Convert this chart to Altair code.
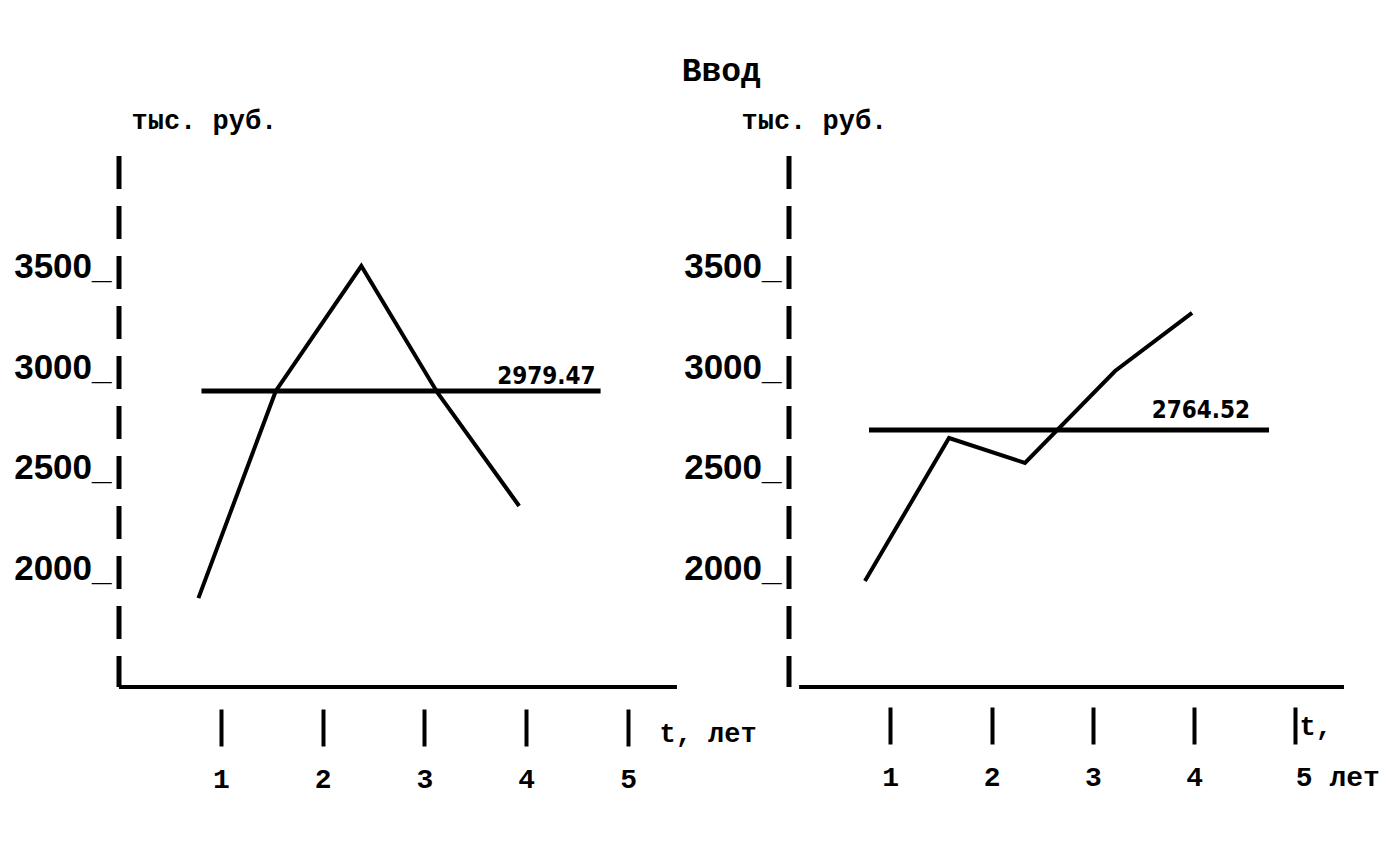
import altair as alt
import pandas as pd

# ---- data ----
YEARS = [1, 2, 3, 4, 5]
Y_TICKS = [2000, 2500, 3000, 3500]
Y_DOMAIN = [1410, 4050]
X_DOMAIN = [0, 5.5]

LEFT_T = [0.78, 1.54, 2.38, 3.13, 3.93]
LEFT_V = [1852, 2882, 3503, 2872, 2310]
LEFT_MEAN = 2882
LEFT_MEAN_SPAN = [0.81, 4.73]
LEFT_MEAN_LABEL = "2979.47"
LEFT_BASE_SPAN = [0.0, 5.48]

RIGHT_T = [0.75, 1.58, 2.33, 3.22, 3.98]
RIGHT_V = [1937, 2648, 2524, 2981, 3270]
RIGHT_MEAN = 2688
RIGHT_MEAN_SPAN = [0.79, 4.74]
RIGHT_MEAN_LABEL = "2764.52"
RIGHT_BASE_SPAN = [0.10, 5.48]

TITLE = "Ввод"
Y_UNIT = "тыс. руб."
LEFT_X_TITLE = "t, лет"
RIGHT_X_TITLE = "t,"
RIGHT_LAST_LABEL = "5 лет"

MONO = "Liberation Mono"
NARROW = "DejaVu Sans Condensed"


def panel(t, v, mean, mean_span, mean_label, base_span, width,
          x_title, x_title_x, x_title_y, y_title_x, x_offset,
          label_dx, label_dy, last_label=None):
    xs = alt.Scale(domain=X_DOMAIN, nice=False, zero=False)
    ys = alt.Scale(domain=Y_DOMAIN, nice=False, zero=False)

    line_df = pd.DataFrame({"t": t, "v": v})
    mean_df = pd.DataFrame({"x0": [mean_span[0]], "x1": [mean_span[1]],
                            "m": [mean], "label": [mean_label]})
    axis_df = pd.DataFrame({"x": [X_DOMAIN[0]], "top": [Y_DOMAIN[1]],
                            "bottom": [Y_DOMAIN[0]]})
    base_df = pd.DataFrame({"x0": [base_span[0]], "x1": [base_span[1]],
                            "y": [Y_DOMAIN[0]]})

    label_expr = "datum.label"
    label_align = "center"
    if last_label is not None:
        label_expr = f"datum.value == 5 ? '{last_label}' : datum.label"
        label_align = {"condition": {"test": "datum.value == 5", "value": "left"},
                       "value": "center"}

    x_axis = alt.Axis(
        values=YEARS, format="d", domain=False, grid=False,
        ticks=True, tickSize=37, tickWidth=4, tickColor="black", tickCap="butt",
        offset=x_offset, labelFlush=False, labelOverlap=False,
        labelFont=MONO, labelFontSize=28, labelFontWeight="bold",
        labelColor="black", labelPadding=19, labelExpr=label_expr,
        labelAlign=label_align,
        title=x_title, titleX=x_title_x, titleY=x_title_y, titleAngle=0,
        titleAlign="left", titleBaseline="alphabetic",
        titleFont=MONO, titleFontSize=27, titleFontWeight="bold",
        titleColor="black",
    )
    y_axis = alt.Axis(
        values=Y_TICKS, format="d", domain=False, grid=False,
        ticks=False, tickSize=0, labelOverlap=False,
        labelExpr="datum.label + '_'",
        labelFont="Liberation Sans", labelFontSize=35, labelFontWeight="bold",
        labelColor="black", labelPadding=8, labelBaseline="middle",
        title=Y_UNIT, titleX=y_title_x, titleY=-28, titleAngle=0,
        titleAlign="left", titleBaseline="alphabetic",
        titleFont=MONO, titleFontSize=27, titleFontWeight="bold",
        titleColor="black",
    )

    axis_rule = alt.Chart(axis_df).mark_rule(
        color="black", strokeWidth=5, strokeDash=[33, 17], strokeCap="butt"
    ).encode(
        x=alt.X("x:Q", scale=xs, axis=x_axis),
        y=alt.Y("top:Q", scale=ys, axis=y_axis),
        y2="bottom:Q",
    )
    base_rule = alt.Chart(base_df).mark_rule(color="black", strokeWidth=4).encode(
        x=alt.X("x0:Q", scale=xs, axis=x_axis), x2="x1:Q",
        y=alt.Y("y:Q", scale=ys, axis=y_axis),
    )
    mean_rule = alt.Chart(mean_df).mark_rule(color="black", strokeWidth=5).encode(
        x=alt.X("x0:Q", scale=xs, axis=x_axis), x2="x1:Q",
        y=alt.Y("m:Q", scale=ys, axis=y_axis),
    )
    mean_text = alt.Chart(mean_df).mark_text(
        align="right", baseline="alphabetic", dx=label_dx, dy=label_dy,
        font=NARROW, fontSize=24, fontWeight="bold", color="black",
    ).encode(
        x=alt.X("x1:Q", scale=xs, axis=x_axis),
        y=alt.Y("m:Q", scale=ys, axis=y_axis),
        text="label:N",
    )
    line = alt.Chart(line_df).mark_line(
        color="black", strokeWidth=4, strokeJoin="miter"
    ).encode(
        x=alt.X("t:Q", scale=xs, axis=x_axis),
        y=alt.Y("v:Q", scale=ys, axis=y_axis),
    )
    return alt.layer(line, axis_rule, base_rule, mean_rule, mean_text).properties(
        width=width, height=531
    )


left = panel(LEFT_T, LEFT_V, LEFT_MEAN, LEFT_MEAN_SPAN, LEFT_MEAN_LABEL,
             LEFT_BASE_SPAN, 560, LEFT_X_TITLE, 540, 32, 12, 22, -5, -7)
right = panel(RIGHT_T, RIGHT_V, RIGHT_MEAN, RIGHT_MEAN_SPAN, RIGHT_MEAN_LABEL,
              RIGHT_BASE_SPAN, 557, RIGHT_X_TITLE, 510, 27, -48, 20, -19, -12,
              last_label=RIGHT_LAST_LABEL)

chart = alt.hconcat(
    left, right, spacing=110, bounds="flush",
    title=alt.TitleParams(text=TITLE, anchor="start", frame="bounds", dx=668,
                          font=MONO, fontSize=33, fontWeight="bold",
                          color="black", offset=18),
    padding={"left": 5, "top": 47, "right": 5, "bottom": 5},
).configure_view(stroke=None).properties(background="white")

chart.save("out.html", embed_options={"renderer": "svg", "actions": False})
